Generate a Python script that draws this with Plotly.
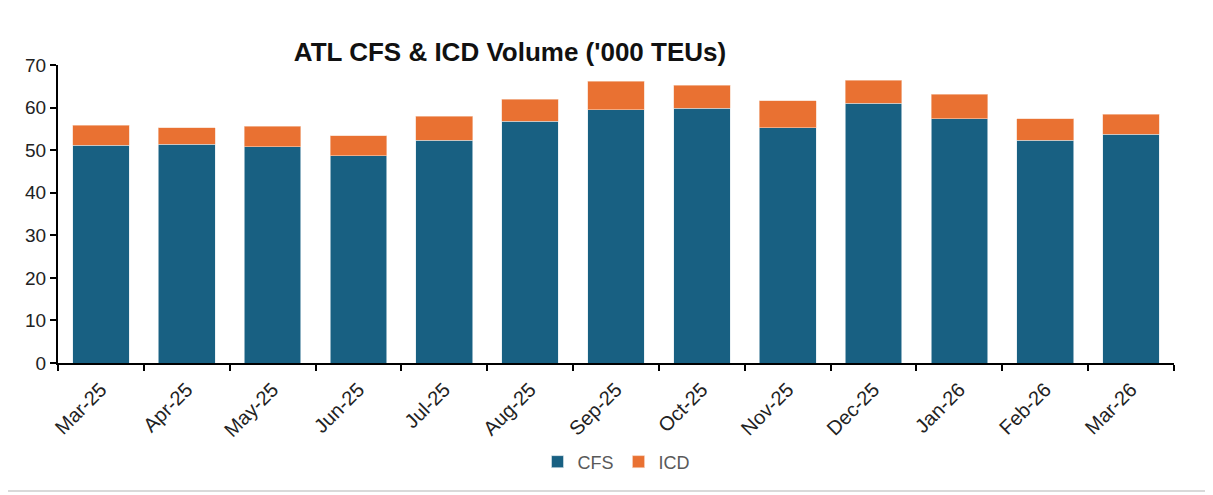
import plotly.graph_objects as go

months = ["Mar-25", "Apr-25", "May-25", "Jun-25", "Jul-25", "Aug-25", "Sep-25",
          "Oct-25", "Nov-25", "Dec-25", "Jan-26", "Feb-26", "Mar-26"]
cfs = [51.1, 51.4, 50.8, 48.7, 52.3, 56.8, 59.5, 59.8, 55.3, 61.0, 57.4, 52.3, 53.7]
icd = [4.8, 3.9, 4.8, 4.7, 5.7, 5.1, 6.7, 5.5, 6.3, 5.4, 5.7, 5.1, 4.7]
y_ticks = [0, 10, 20, 30, 40, 50, 60, 70]

fig = go.Figure()
fig.add_trace(go.Bar(x=months, y=cfs, name="CFS",
                     marker=dict(color="#186082", line=dict(color="#dfe9ee", width=0.6))))
fig.add_trace(go.Bar(x=months, y=icd, name="ICD",
                     marker=dict(color="#E97132", line=dict(color="#f6d2bd", width=0.6))))

fig.update_layout(
    barmode="stack",
    bargap=0.34,
    width=1213, height=495,
    margin=dict(l=50, r=47, t=57, b=140, autoexpand=False),
    paper_bgcolor="white", plot_bgcolor="white",
    font=dict(family="Liberation Sans, Arial, sans-serif", color="#222222"),
    title=dict(text="<b>ATL CFS & ICD Volume ('000 TEUs)</b>",
               x=(510 - 58) / 1116, xref="paper", xanchor="center",
               y=1 - 44 / 495, yref="container", yanchor="middle",
               font=dict(size=26, color="#111111")),
    legend=dict(orientation="h", x=0.5, xanchor="center", y=-0.332, yanchor="middle",
                font=dict(size=18, color="#595959"), itemwidth=30,
                traceorder="normal"),
    showlegend=True,
    shapes=[dict(type="rect", xref="paper", yref="paper",
                 x0=-0.0484, x1=1.0323, y0=-0.4295, y1=1.235,
                 line=dict(color="#d9d9d9", width=2), layer="below")],
)
fig.update_xaxes(
    type="category", showline=True, linecolor="black", linewidth=2,
    ticks="outside", tickson="boundaries", ticklen=6, tickwidth=2, tickcolor="black",
    tickangle=-45, tickfont=dict(size=20, color="#222222"), showgrid=False,
    ticklabelstandoff=5,
)
fig.update_yaxes(
    range=[0, 70], tickvals=y_ticks, showline=True, linecolor="black", linewidth=2,
    ticks="outside", ticklen=6, tickwidth=2, tickcolor="black",
    tickfont=dict(size=19, color="#222222"), showgrid=False, zeroline=False,
)

fig.write_html("out.html")
